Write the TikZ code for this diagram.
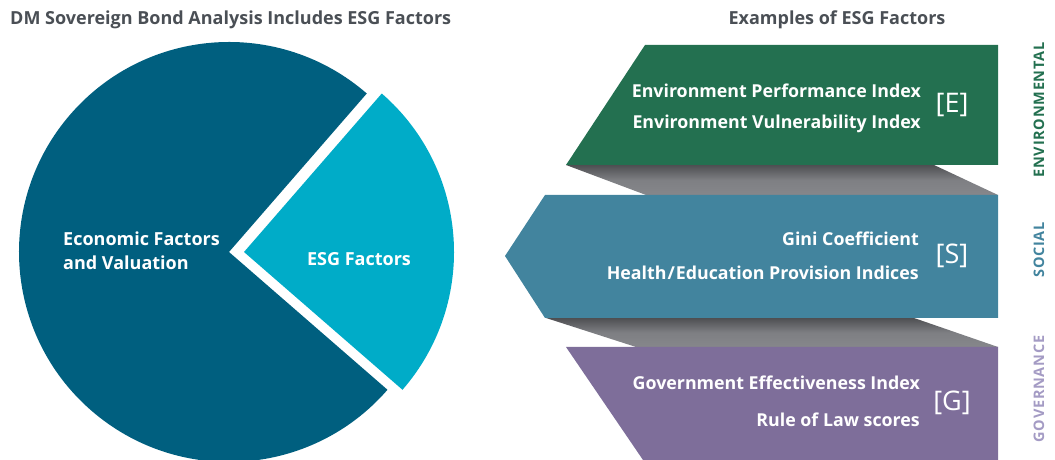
\documentclass[tikz,border=0pt]{standalone}
\usepackage{fontspec}
\setmainfont{Open Sans}
\definecolor{piedark}{HTML}{005F7F}
\definecolor{pielight}{HTML}{00ACC8}
\definecolor{envgreen}{HTML}{237050}
\definecolor{socblue}{HTML}{42849E}
\definecolor{govpurple}{HTML}{7E6E9A}
\definecolor{govlabel}{HTML}{A49BC4}
\definecolor{titlegray}{HTML}{4A4F55}
\definecolor{shadetop}{HTML}{4E4F52}
\definecolor{shademid}{HTML}{7E7F83}
\definecolor{shadebot}{HTML}{86878B}
\begin{document}
\begin{tikzpicture}[x=1pt,y=1pt,
  title/.style={font=\bfseries\fontsize{18}{20}\selectfont, text=titlegray, inner sep=0pt},
  pietext/.style={font=\bfseries\fontsize{18}{24.5}\selectfont, text=white, inner sep=0pt, align=left},
  item/.style={font=\bfseries\fontsize{17.8}{20}\selectfont, text=white, inner sep=0pt, anchor=east},
  bracket/.style={font=\fontsize{27}{29}\selectfont, text=white, inner sep=0pt},
  sidelabel/.style={font=\bfseries\fontsize{14.5}{15}\selectfont\addfontfeatures{LetterSpace=5}, inner sep=0pt, rotate=90},
  fold/.style={top color=shadetop, bottom color=shadebot, middle color=shademid}
]
\useasboundingbox (0,0) rectangle (1055,460);
% titles
\node[title, anchor=west] (t1) at (10,440) {DM Sovereign Bond Analysis Includes ESG Factors};
\node[title] (t2) at (837,440) {Examples of ESG Factors};
% pie
\coordinate (pc) at (229,208);
\coordinate (pe) at (244,208);
\fill[piedark] (pc) -- ++(49:210) arc[start angle=49, end angle=319, radius=210] -- cycle;
\fill[pielight] (pe) -- ++(-41:210) arc[start angle=-41, end angle=49, radius=210] -- cycle;
\node[pietext, anchor=west] (econ) at (63,209) {Economic Factors\\and Valuation};
\node[pietext] (esg) at (359,201) {ESG Factors};
% folds
\shade[fold] (566,295) -- (934,295) -- (998,265) -- (646,265) -- cycle;
\shade[fold] (546,142) -- (914,142) -- (998,113) -- (636,113) -- cycle;
% panels
\fill[envgreen] (645,415) -- (998,415) -- (998,295) -- (566,295) -- cycle;
\fill[socblue] (545,265) -- (998,265) -- (998,142) -- (545,142) -- (505,204) -- cycle;
\fill[govpurple] (566,113) -- (998,113) -- (998,0) -- (643,0) -- cycle;
% panel texts
\node[item] (e1) at (921,369) {Environment Performance Index};
\node[item] (e2) at (921,336) {Environment Vulnerability Index};
\node[bracket] (eb) at (952,355) {[E]};
\node[item] (s1) at (919,221) {Gini Coefficient};
\node[item] (s2) at (919,187) {Health\kern1pt/\kern1pt Education Provision Indices};
\node[bracket] (sb) at (952,204) {[S]};
\node[item] (g1) at (920,77) {Government Effectiveness Index};
\node[item] (g2) at (920,40) {Rule of Law scores};
\node[bracket] (gb) at (952,57) {[G]};
% side labels
\node[sidelabel, text=envgreen] (le) at (1039,350) {ENVIRONMENTAL};
\node[sidelabel, text=socblue] (ls) at (1039,210) {SOCIAL};
\node[sidelabel, text=govlabel] (lg) at (1039,71) {GOVERNANCE};
\end{tikzpicture}
\end{document}
